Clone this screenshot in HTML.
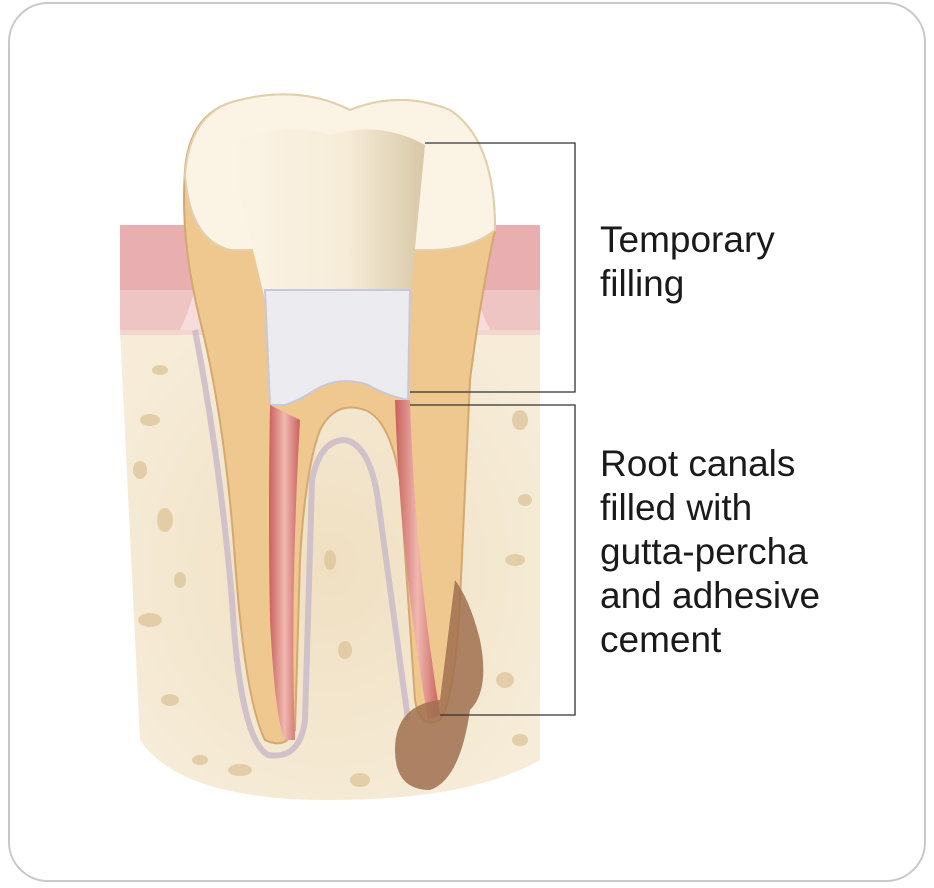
<!DOCTYPE html>
<html><head><meta charset="utf-8"><style>
html,body{margin:0;padding:0;background:#fff;}
body{width:934px;height:888px;overflow:hidden;position:relative;font-family:"Liberation Sans",sans-serif;}
.frame{position:absolute;left:8px;top:2px;width:918px;height:880px;border:2px solid #c8c8c8;border-radius:40px;box-sizing:border-box;}
.lbl{position:absolute;left:600px;font-size:37px;line-height:44px;color:#1a1a1a;}
</style></head><body>
<div class="frame"></div>
<svg width="934" height="888" style="position:absolute;left:0;top:0">
<defs>
<radialGradient id="bone" cx="50%" cy="50%" r="60%"><stop offset="0" stop-color="#f0e0c2"/><stop offset="1" stop-color="#f6ecd8"/></radialGradient>
<linearGradient id="crown" x1="0" x2="1"><stop offset="0" stop-color="#fbf4e6"/><stop offset="0.6" stop-color="#f6ecd8"/><stop offset="1" stop-color="#d9c8a8"/></linearGradient>
<linearGradient id="canal" x1="0" x2="1"><stop offset="0" stop-color="#c9605c"/><stop offset="0.5" stop-color="#f0b8b0"/><stop offset="1" stop-color="#c9605c"/></linearGradient>
</defs>
<path d="M120 330 L540 330 L540 760 Q470 800 330 800 Q180 800 140 740 Z" fill="url(#bone)"/>
<g fill="#dcc49a" opacity="0.75">
<ellipse cx="150" cy="420" rx="10" ry="6"/><ellipse cx="165" cy="520" rx="8" ry="12"/><ellipse cx="150" cy="620" rx="12" ry="7"/>
<ellipse cx="170" cy="700" rx="9" ry="6"/><ellipse cx="520" cy="420" rx="8" ry="10"/><ellipse cx="515" cy="560" rx="10" ry="6"/>
<ellipse cx="505" cy="680" rx="9" ry="8"/><ellipse cx="240" cy="770" rx="12" ry="6"/><ellipse cx="360" cy="780" rx="10" ry="7"/>
<ellipse cx="330" cy="560" rx="6" ry="10"/><ellipse cx="345" cy="650" rx="7" ry="9"/>
<ellipse cx="140" cy="470" rx="7" ry="9"/><ellipse cx="180" cy="580" rx="6" ry="8"/><ellipse cx="525" cy="500" rx="7" ry="6"/>
<ellipse cx="200" cy="760" rx="8" ry="5"/><ellipse cx="520" cy="740" rx="8" ry="6"/><ellipse cx="160" cy="370" rx="8" ry="5"/>
</g>
<path d="M120 225 L540 225 L540 330 L490 330 Q470 290 470 260 L200 260 Q195 300 180 330 L120 330 Z" fill="#e8aeb0"/>
<path d="M120 290 L540 290 L540 335 L120 335 Z" fill="#f2cfcc" opacity="0.7"/>
<path d="M185 170 Q190 110 240 100 Q300 85 350 110 Q400 90 450 110 Q495 140 495 230 Q480 300 470 380 Q465 500 460 600 Q455 700 440 720 Q420 730 415 700 L400 480 Q390 420 365 410 Q335 400 320 430 Q305 470 300 560 L295 730 Q285 750 265 740 Q245 700 235 560 Q225 420 200 320 Q180 240 185 170 Z" fill="#efc890" stroke="#d4a870" stroke-width="2"/>
<path d="M195 330 Q220 460 232 600 Q240 740 268 755 Q300 760 305 720 L312 480 Q320 440 345 440 Q370 445 378 500 L408 720" fill="none" stroke="#c8b8c8" stroke-width="6" opacity="0.8"/>
<path d="M185 175 Q190 110 240 100 Q300 85 350 110 Q400 90 450 110 Q495 140 495 230 Q470 250 430 250 L230 250 Q190 240 185 175 Z" fill="#fbf3e3" stroke="#e0d0b0" stroke-width="2"/>
<path d="M228 145 Q280 120 330 135 Q380 120 425 145 L410 300 L265 300 Z" fill="url(#crown)"/>
<path d="M265 290 L410 290 L408 400 Q385 395 368 385 Q340 375 315 390 Q300 400 285 405 L270 405 Z" fill="#ebebf0" stroke="#c8c8d8" stroke-width="2"/>
<path d="M270 405 Q268 520 270 620 Q275 720 285 740 L295 740 Q290 600 300 420 Z" fill="url(#canal)"/>
<path d="M395 400 L410 400 Q415 560 440 715 L428 720 Q400 560 395 400 Z" fill="url(#canal)"/>
<path d="M455 580 Q470 600 480 640 Q490 690 470 710 Q460 780 430 790 Q395 790 395 750 Q395 705 440 700 Z" fill="#a07050" opacity="0.85"/>
<polyline points="425,143 575,143 575,392 410,392" fill="none" stroke="#333" stroke-width="1.3"/>
<polyline points="410,405 575,405 575,715 440,715" fill="none" stroke="#333" stroke-width="1.3"/>
</svg>
<div class="lbl" style="top:218px">Temporary<br>filling</div>
<div class="lbl" style="top:442px">Root canals<br>filled with<br>gutta-percha<br>and adhesive<br>cement</div>
</body></html>
